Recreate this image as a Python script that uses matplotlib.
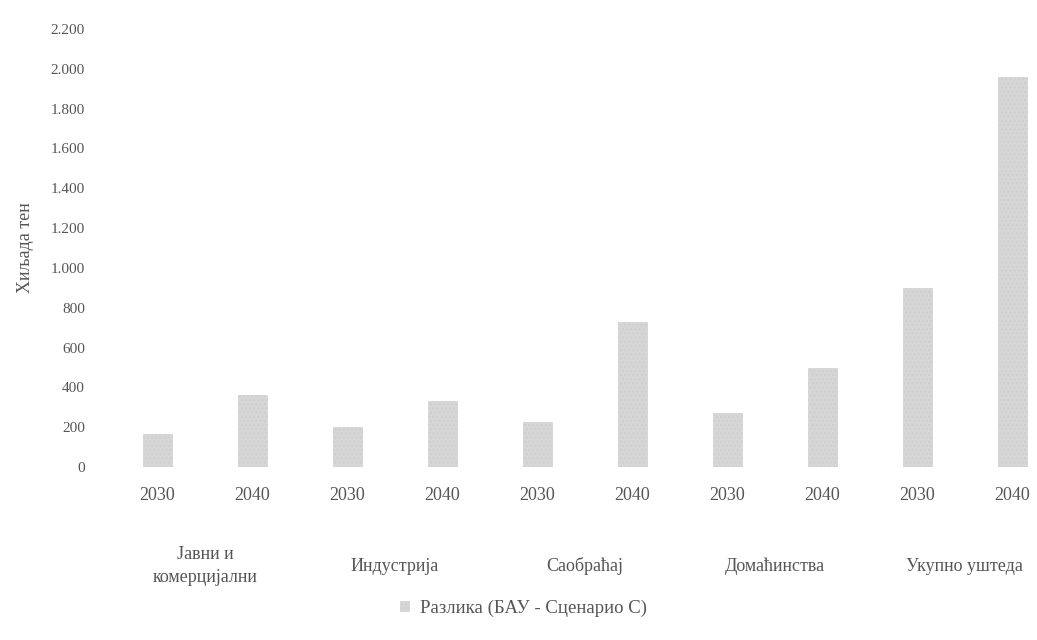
import numpy as np
import matplotlib.pyplot as plt
import matplotlib.transforms as mtransforms
from matplotlib.ticker import FuncFormatter

categories = ["Јавни и\nкомерцијални", "Индустрија", "Саобраћај", "Домаћинства", "Укупно уштеда"]
years = ["2030", "2040"]
savings_2030 = [165, 200, 225, 270, 900]
savings_2040 = [360, 330, 730, 500, 1960]

plt.rcParams['font.family'] = ['Liberation Serif', 'DejaVu Serif']
txt = '#555555'

values = []
for a, b in zip(savings_2030, savings_2040):
    values += [a, b]
x = np.arange(len(values))
year_labels = years * len(categories)

fig = plt.figure(figsize=(10.37, 6.4), dpi=100)
ax = fig.add_axes([0.106, 0.27, 0.916, 0.685])

ax.bar(x, values, width=0.3, color='#d6d6d6', edgecolor='#cfcfcf', hatch='....',
       linewidth=0.5, label='Разлика (БАУ - Сценарио С)')

ax.set_xlim(-0.5, len(values) - 0.5)
ax.set_ylim(0, 2200)
ax.set_yticks(np.arange(0, 2201, 200))
ax.yaxis.set_major_formatter(FuncFormatter(lambda v, p: f"{int(v):,}".replace(",", ".")))
ax.set_xticks(x)
ax.set_xticklabels(year_labels, fontsize=13, color=txt)
ax.tick_params(axis='both', length=0, colors=txt)
ax.tick_params(axis='x', pad=14)
ax.tick_params(axis='y', labelsize=11, pad=18)
for s in ax.spines.values():
    s.set_visible(False)

ax.set_ylabel("Хиљада тен", fontsize=13, color=txt, labelpad=12)

trans = mtransforms.blended_transform_factory(ax.transData, fig.transFigure)
for i, cat in enumerate(categories):
    ax.text(2 * i + 0.5, 0.115, cat, transform=trans, ha='center', va='center',
            fontsize=13, color=txt, linespacing=1.45)

leg = fig.legend(loc='center', bbox_to_anchor=(0.505, 0.05), frameon=False,
                 fontsize=13.5, handlelength=0.5, handleheight=0.5, handletextpad=0.6)
for t in leg.get_texts():
    t.set_color(txt)

fig.savefig("out.png", dpi=100, facecolor='white')
